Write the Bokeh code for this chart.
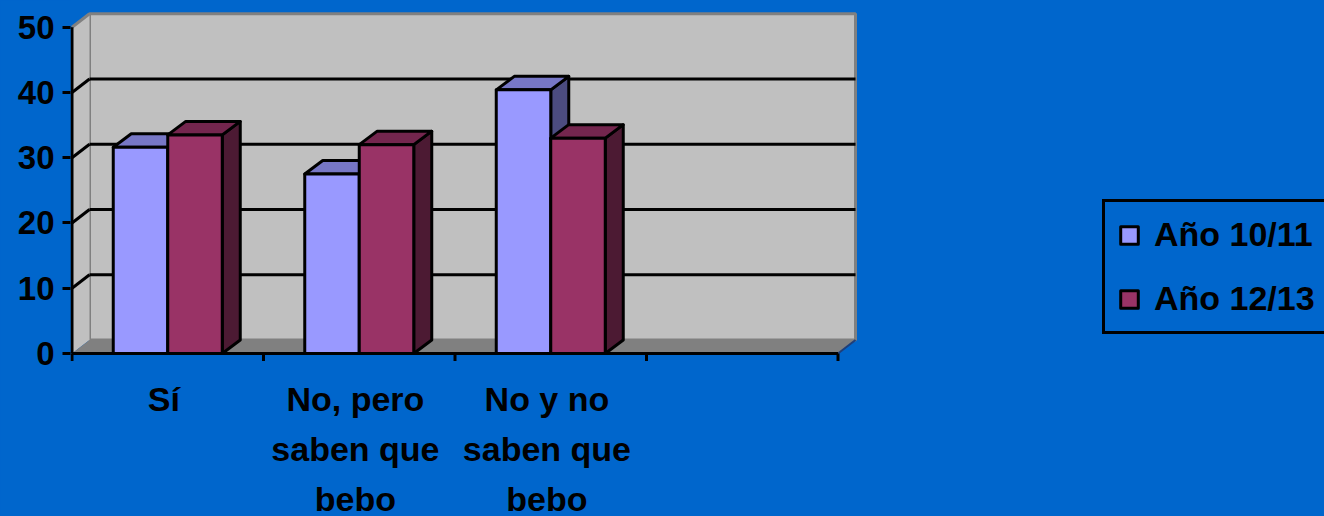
from bokeh.plotting import figure
from bokeh.models import (Range1d, FixedTicker, Legend, LegendItem, GlobalInlineStyleSheet)
from bokeh.core.properties import value
from bokeh.embed import file_html
from bokeh.resources import INLINE

# ---------------- data ----------------
categories = ["Sí", "No, pero\nsaben que\nbebo", "No y no\nsaben que\nbebo", ""]
series_names = ["Año 10/11", "Año 12/13"]
values_1011 = [31.6, 27.5, 40.4]
values_1213 = [33.5, 32.0, 33.0]
y_ticks = [0, 10, 20, 30, 40, 50]

# ---------------- style ----------------
BG = "#0066CC"
FONT = "Liberation Sans"
front_colors = ["#9999FF", "#993366"]
top_colors = ["#7777C6", "#74264E"]
side_colors = ["#4C4C80", "#4C1A33"]

# ---------------- layout (pixels) ----------------
W, H = 1324, 516
PX_X = 191.5          # pixels per category
PX_Y = 6.526          # pixels per value unit
FRAME_LEFT = 70
ZERO_X = 71.5         # pixel of x = 0
ZERO_Y = 353          # pixel of y = 0 (from top)
x0 = -(ZERO_X - FRAME_LEFT) / PX_X
x1 = x0 + (W - FRAME_LEFT) / PX_X
y0 = -(H - ZERO_Y) / PX_Y
y1 = ZERO_Y / PX_Y

n_cat = len(categories)
top_val = y_ticks[-1]
DX = 17.5 / PX_X      # depth offset of walls
DY = 13.5 / PX_Y
BDX = 18.0 / PX_X     # depth offset of bars
BDY = 13.5 / PX_Y
BW = 54.5 / PX_X      # bar width (category units)

p = figure(width=W, height=H, x_range=Range1d(x0, x1), y_range=Range1d(y0, y1),
           output_backend="svg", toolbar_location=None,
           background_fill_color=BG, border_fill_color=BG,
           min_border_left=FRAME_LEFT, min_border_right=0, min_border_top=0,
           min_border_bottom=0)
p.outline_line_color = None
p.grid.visible = False
p.xaxis.visible = False
p.stylesheets = [GlobalInlineStyleSheet(css="body { background-color: #0066CC; }")]

# y axis
p.yaxis.ticker = FixedTicker(ticks=y_ticks, minor_ticks=[])
p.yaxis.axis_line_color = None
p.yaxis.major_tick_line_color = "black"
p.yaxis.major_tick_line_width = 3
p.yaxis.major_tick_out = 8
p.yaxis.major_tick_in = 0
p.yaxis.minor_tick_line_color = None
p.yaxis.major_label_text_font = FONT
p.yaxis.major_label_text_font_size = "33px"
p.yaxis.major_label_text_font_style = "bold"
p.yaxis.major_label_text_color = "black"
p.yaxis.major_label_standoff = 8

# walls and floor
p.patch([DX, n_cat + DX, n_cat + DX, DX], [DY, DY, top_val + DY, top_val + DY],
        fill_color="#C0C0C0", line_color="#808080", line_width=3)
p.patch([0, DX, DX, 0], [0, DY, top_val + DY, top_val],
        fill_color="#C0C0C0", line_color=None)
p.line([0, DX], [top_val, top_val + DY], line_color="#808080", line_width=3)
p.patch([0, n_cat, n_cat + DX, DX], [0, 0, DY, DY], fill_color="#808080", line_color=None)
p.line([n_cat, n_cat + DX], [0, DY], line_color="#1F3F7A", line_width=2)

# gridlines on back and side walls
gv = y_ticks[1:-1]
p.multi_line([[DX, n_cat + DX] for v in gv], [[v + DY, v + DY] for v in gv],
             line_color="black", line_width=3)
p.multi_line([[0, DX] for v in gv], [[v, v + DY] for v in gv],
             line_color="black", line_width=3)

# axis lines and category-boundary tick marks
p.line([0, 0], [0, top_val], line_color="black", line_width=3)
p.line([0, n_cat], [0, 0], line_color="black", line_width=3)
tick_len = 7.5 / PX_Y
p.segment(x0=list(range(n_cat + 1)), y0=[0] * (n_cat + 1),
          x1=list(range(n_cat + 1)), y1=[-tick_len] * (n_cat + 1),
          line_color="black", line_width=3)

# bars
front_renderers = []
for s, vals in enumerate([values_1011, values_1213]):
    lefts = [i + 0.5 - BW + s * BW for i in range(len(vals))]
    rights = [l + BW for l in lefts]
    side_xs = [[r, r + BDX, r + BDX, r] for r in rights]
    side_ys = [[0, BDY, v + BDY, v] for v in vals]
    top_xs = [[l, l + BDX, r + BDX, r] for l, r in zip(lefts, rights)]
    top_ys = [[v, v + BDY, v + BDY, v] for v in vals]
    p.patches(side_xs, side_ys, fill_color=side_colors[s], line_color="black",
              line_width=3, line_join="round")
    p.patches(top_xs, top_ys, fill_color=top_colors[s], line_color="black",
              line_width=3, line_join="round")
    r = p.quad(left=lefts, right=rights, bottom=[0] * len(vals), top=vals,
               fill_color=front_colors[s], line_color="black", line_width=3,
               line_join="round")
    front_renderers.append(r)

# category labels (one row per text line)
LINE1 = 45.0
LINE_GAP = 50.0
lx, ly, lt = [], [], []
for i, c in enumerate(categories):
    for k, t in enumerate(c.split("\n")):
        if t:
            lx.append(i + 0.5 - 0.02)
            ly.append(-(LINE1 + k * LINE_GAP) / PX_Y)
            lt.append(t)
p.text(x=lx, y=ly, text=lt, text_font=value(FONT), text_font_size="34px",
       text_font_style="bold", text_color="black", text_align="center",
       text_baseline="alphabetic")

# legend
legend = Legend(items=[LegendItem(label=series_names[k], renderers=[front_renderers[k]])
                       for k in range(2)],
                location=(1102 - FRAME_LEFT, H - 334), orientation="vertical",
                border_line_color="black", border_line_width=3, border_line_alpha=1.0,
                background_fill_color=BG, background_fill_alpha=1.0,
                label_text_font=FONT, label_text_font_size="34px",
                label_text_font_style="bold", label_text_color="black",
                glyph_width=22, glyph_height=22, label_standoff=14,
                spacing=25, padding=13, margin=0)
p.add_layout(legend)

open("out.html", "w").write(file_html(p, INLINE))
